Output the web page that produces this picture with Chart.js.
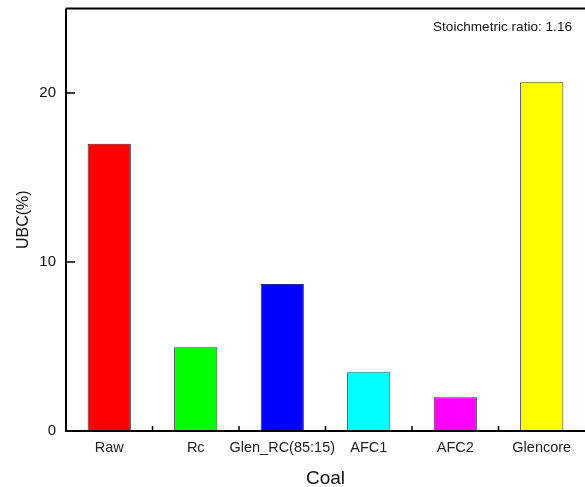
<!DOCTYPE html>
<html>
<head>
<meta charset="utf-8">
<script src="https://cdn.jsdelivr.net/npm/chart.js@4"></script>
<style>
  html, body { margin: 0; padding: 0; background: #fff; }
  #wrap { width: 585px; height: 487px; }
</style>
</head>
<body>
<div id="wrap"><canvas id="ubcChart" width="585" height="487"></canvas></div>
<script>
// ข้อมูลกราฟ
const coals = ['Raw', 'Rc', 'Glen_RC(85:15)', 'AFC1', 'AFC2', 'Glencore'];
const ubcValues = [17.0, 4.95, 8.7, 3.47, 2.0, 20.63];
const barColors = ['#ff0000', '#00ff00', '#0000ff', '#00ffff', '#ff00ff', '#ffff00'];
const yTicks = [0, 10, 20];
const noteText = 'Stoichmetric ratio: 1.16';

// วาดกรอบ, ขีด tick ด้านใน และข้อความกำกับ
const frameAndNote = {
    id: 'frameAndNote',
    afterDraw(chart) {
        const ctx = chart.ctx;
        const a = chart.chartArea;
        const x = chart.scales.x;
        const y = chart.scales.y;
        ctx.save();
        ctx.strokeStyle = '#000';
        ctx.lineWidth = 2;
        ctx.beginPath();
        ctx.moveTo(a.left, a.top);
        ctx.lineTo(a.right, a.top);
        ctx.moveTo(a.left, a.top);
        ctx.lineTo(a.left, a.bottom);
        ctx.lineTo(a.right, a.bottom);
        ctx.stroke();

        ctx.lineWidth = 1.5;
        ctx.beginPath();
        yTicks.forEach(v => {
            const py = y.getPixelForValue(v);
            ctx.moveTo(a.left, py);
            ctx.lineTo(a.left + 9, py);
        });
        for (let i = 0; i < coals.length - 1; i++) {
            const px = (x.getPixelForValue(i) + x.getPixelForValue(i + 1)) / 2;
            ctx.moveTo(px, a.bottom);
            ctx.lineTo(px, a.bottom - 5);
        }
        ctx.stroke();

        ctx.fillStyle = '#111';
        ctx.font = '13.6px "Liberation Sans", Arial, sans-serif';
        ctx.textAlign = 'right';
        ctx.textBaseline = 'middle';
        ctx.fillText(noteText, a.right - 13, a.top + 19);
        ctx.restore();
    }
};

const ctx = document.getElementById('ubcChart').getContext('2d');
new Chart(ctx, {
    type: 'bar',
    data: {
        labels: coals,
        datasets: [{
            label: 'UBC',
            data: ubcValues,
            backgroundColor: barColors,
            borderColor: '#333',
            borderWidth: 1,
            barPercentage: 0.5,
            categoryPercentage: 1.0
        }]
    },
    options: {
        responsive: false,
        animation: false,
        layout: { padding: { top: 8.5, right: 0, left: 0, bottom: 0 } },
        scales: {
            x: {
                grid: { display: false, drawTicks: false },
                border: { display: false },
                ticks: {
                    color: '#222',
                    font: { family: '"Liberation Sans", Arial, sans-serif', size: 14.5 },
                    padding: 8,
                    maxRotation: 0,
                    autoSkip: false
                },
                title: {
                    display: true,
                    text: 'Coal',
                    color: '#111',
                    font: { family: '"Liberation Sans", Arial, sans-serif', size: 19 },
                    padding: { top: 13, bottom: -3 }
                },
                afterFit(scale) {
                    scale.height = 56;
                    scale.paddingLeft = 0;
                    scale.paddingRight = 0;
                }
            },
            y: {
                min: 0,
                max: 25,
                grid: { display: false, drawTicks: false },
                border: { display: false },
                afterBuildTicks(scale) {
                    scale.ticks = yTicks.map(v => ({ value: v }));
                },
                ticks: {
                    color: '#111',
                    font: { family: '"Liberation Sans", Arial, sans-serif', size: 15 },
                    padding: 10
                },
                title: {
                    display: true,
                    text: 'UBC(%)',
                    color: '#111',
                    font: { family: '"Liberation Sans", Arial, sans-serif', size: 16 },
                    padding: { top: 14, bottom: 0 }
                },
                afterFit(scale) {
                    scale.width = 66;
                    scale.paddingTop = 0;
                    scale.paddingBottom = 0;
                }
            }
        },
        plugins: {
            legend: { display: false },
            tooltip: { enabled: false }
        }
    },
    plugins: [frameAndNote]
});
</script>
</body>
</html>
